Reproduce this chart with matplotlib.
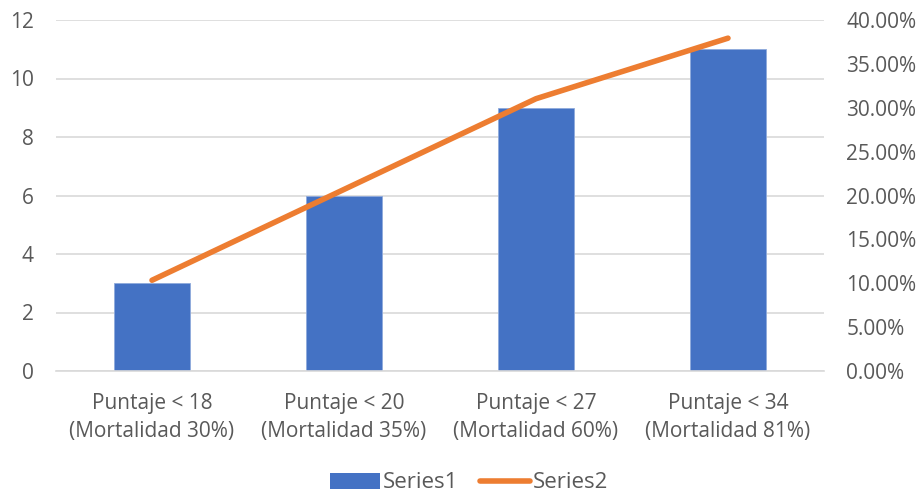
import matplotlib
matplotlib.use("Agg")
import matplotlib.pyplot as plt
from matplotlib.ticker import FuncFormatter, MultipleLocator
from matplotlib.lines import Line2D
from matplotlib.patches import Patch

categories = ["Puntaje < 18\n(Mortalidad 30%)", "Puntaje < 20\n(Mortalidad 35%)",
              "Puntaje < 27\n(Mortalidad 60%)", "Puntaje < 34\n(Mortalidad 81%)"]
series1 = [3, 6, 9, 11]
series2 = [0.1034, 0.2069, 0.3103, 0.3793]

BLUE = "#4472C4"
ORANGE = "#ED7D31"
TEXT = "#595959"
GRID = "#D9D9D9"
FS = 15

plt.rcParams["font.family"] = ["Open Sans", "DejaVu Sans"]

fig = plt.figure(figsize=(9.21, 4.95), dpi=100)
ax = fig.add_axes([56 / 921, 1 - 371 / 495, 768 / 921, 351 / 495])
x = list(range(len(categories)))

ax.bar(x, series1, width=0.4, color=BLUE, edgecolor="#8FAADC", linewidth=0.6, zorder=2)
ax.set_xlim(-0.5, len(categories) - 0.5)
ax.set_ylim(0, 12)
ax.yaxis.set_major_locator(MultipleLocator(2))
ax.grid(axis="y", color=GRID, linewidth=1.2, zorder=0)
ax.set_axisbelow(True)
for s in ["top", "left", "right"]:
    ax.spines[s].set_visible(False)
ax.spines["bottom"].set_color(GRID)
ax.spines["bottom"].set_linewidth(1.2)
ax.tick_params(axis="both", length=0, colors=TEXT, labelsize=FS)
ax.tick_params(axis="y", pad=16)
ax.tick_params(axis="x", pad=16)
ax.set_xticks(x)
ax.set_xticklabels(categories, linespacing=1.42)

ax2 = ax.twinx()
ax2.plot(x, series2, color=ORANGE, linewidth=4, solid_capstyle="round", zorder=3)
ax2.set_ylim(0, 0.4)
ax2.yaxis.set_major_locator(MultipleLocator(0.05))
ax2.yaxis.set_major_formatter(FuncFormatter(lambda v, p: f"{v * 100:.2f}%"))
for s in ["top", "left", "right", "bottom"]:
    ax2.spines[s].set_visible(False)
ax2.tick_params(axis="y", length=0, colors=TEXT, labelsize=FS, pad=16)

handles = [Patch(facecolor=BLUE, edgecolor="none"),
           Line2D([0], [0], color=ORANGE, linewidth=4, solid_capstyle="round")]
fig.legend(handles, ["Series1", "Series2"], loc="center", bbox_to_anchor=(469 / 921, 1 - 483 / 495),
           ncol=2, frameon=False, fontsize=16, labelcolor=TEXT, handlelength=2.25,
           handleheight=0.7, handletextpad=0.1, columnspacing=1.0)

fig.savefig("out.png", dpi=100)
